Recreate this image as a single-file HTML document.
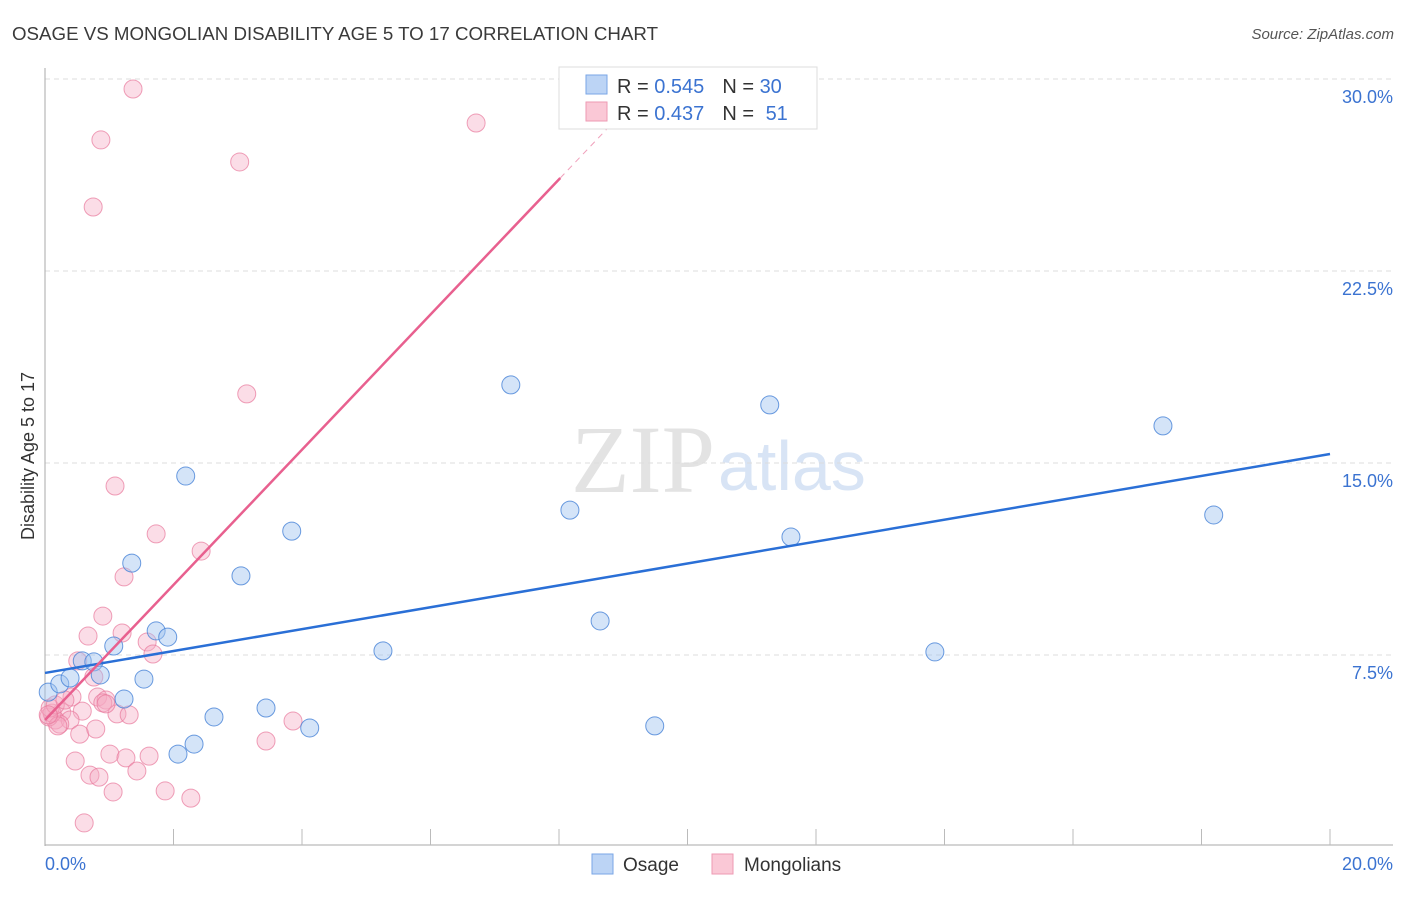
<!DOCTYPE html>
<html><head><meta charset="utf-8"><style>
body{margin:0;background:#fff;font-family:"Liberation Sans",sans-serif;}
svg text{font-family:"Liberation Sans",sans-serif;}
</style></head><body>
<svg width="1406" height="892" xmlns="http://www.w3.org/2000/svg">
<text x="12" y="40" font-size="18" fill="#3a3a3a" textLength="646" lengthAdjust="spacingAndGlyphs">OSAGE VS MONGOLIAN DISABILITY AGE 5 TO 17 CORRELATION CHART</text>
<text x="1394" y="39" font-size="15" fill="#555" font-style="italic" text-anchor="end">Source: ZipAtlas.com</text>
<text x="715" y="492" font-size="96" fill="#e3e3e3" text-anchor="end" style="font-family:'Liberation Serif',serif">ZIP</text>
<text x="718" y="490" font-size="70" fill="#d8e4f5">atlas</text>
<g id="grid"></g>
<g id="axes"></g>
<g id="pts"></g>
<g id="trend"></g>
<text transform="translate(34,456) rotate(-90)" font-size="18" fill="#333" text-anchor="middle">Disability Age 5 to 17</text>
<text x="45" y="870" font-size="18" fill="#3b73d1">0.0%</text>
<text x="1393" y="870" font-size="18" fill="#3b73d1" text-anchor="end">20.0%</text>
<g>
<rect x="559" y="67" width="258" height="62" fill="#fff" stroke="#ddd"/>
<rect x="586" y="75" width="21" height="19" fill="#bcd4f5" stroke="#7aa6e6"/>
<rect x="586" y="102" width="21" height="19" fill="#fac8d6" stroke="#ee9ab3"/>
<text x="617" y="93" font-size="20" fill="#333">R = <tspan fill="#3b73d1">0.545</tspan><tspan dx="18" fill="#333">N = </tspan><tspan fill="#3b73d1">30</tspan></text>
<text x="617" y="120" font-size="20" fill="#333">R = <tspan fill="#3b73d1">0.437</tspan><tspan dx="18" fill="#333">N = </tspan><tspan dx="6" fill="#3b73d1">51</tspan></text>
</g>
<g>
<rect x="592" y="854" width="21" height="20" fill="#bcd4f5" stroke="#7aa6e6"/>
<text x="623" y="871" font-size="19" fill="#333">Osage</text>
<rect x="712" y="854" width="21" height="20" fill="#fac8d6" stroke="#ee9ab3"/>
<text x="744" y="871" font-size="19" fill="#333">Mongolians</text>
</g>
</svg>
<script>
const yTicks=[7.5,15,22.5,30];
const yTickLabels=["7.5%","15.0%","22.5%","30.0%"];
const xTicks=[2,4,6,8,10,12,14,16,18,20];
const osageX=[0.05,0.23,0.39,0.58,0.76,0.86,1.07,1.23,1.35,1.54,1.73,1.91,2.07,2.19,2.32,2.63,3.05,3.44,3.84,4.12,5.26,7.25,8.17,8.64,9.49,11.28,11.61,13.85,17.40,18.19];
const osageY=[6.05,6.37,6.60,7.27,7.23,6.72,7.85,5.78,11.09,6.56,8.44,8.20,3.63,14.49,4.02,5.08,10.59,5.43,12.34,4.65,7.66,18.05,13.16,8.83,4.73,17.27,12.11,7.62,16.45,12.97];
const mongX=[1.37,0.87,0.75,3.03,6.71,3.14,1.09,1.73,2.43,1.23,0.90,0.67,1.20,1.59,1.68,0.51,0.76,0.42,0.82,0.95,0.90,0.58,0.26,0.16,0.39,0.23,0.06,0.11,0.20,0.54,0.79,1.12,1.31,0.95,3.86,1.01,1.26,1.62,0.47,0.70,0.84,1.43,1.06,1.87,2.27,3.44,0.61,0.08,0.16,0.05,0.31];
const mongY=[29.61,27.62,25.0,26.76,28.28,17.70,14.10,12.23,11.56,10.55,9.02,8.24,8.36,8.01,7.54,7.27,6.64,5.86,5.86,5.74,5.63,5.31,5.27,4.96,4.96,4.80,5.08,5.23,4.73,4.41,4.61,5.20,5.16,5.59,4.92,3.63,3.48,3.55,3.36,2.81,2.73,2.97,2.15,2.19,1.91,4.14,0.94,5.43,5.55,5.16,5.74];
const osageTrend=[6.80,15.35];
const mongTrend=[4.96,2.64];
const NS="http://www.w3.org/2000/svg";
const sx=v=>45+v*64.25, sy=v=>847-v*25.6;
function mk(t,a,p){const e=document.createElementNS(NS,t);for(const k in a)e.setAttribute(k,a[k]);p.appendChild(e);return e;}
const grid=document.getElementById('grid'),axes=document.getElementById('axes'),pts=document.getElementById('pts'),tr=document.getElementById('trend');
yTicks.forEach((v,i)=>{
 const l=mk('line',{x1:45,x2:1393,y1:sy(v),y2:sy(v),stroke:'#ddd','stroke-dasharray':'5,4'},grid);
 
 
 const t=mk('text',{x:1393,y:sy(v)+24,'font-size':18,fill:'#3b73d1','text-anchor':'end'},grid);
 t.textContent=yTickLabels[i];
 
 
});
let a=mk('line',{x1:45,x2:45,y1:68,y2:846,stroke:'#aaa'},axes);


a=mk('line',{x1:45,x2:1393,y1:845,y2:845,stroke:'#aaa'},axes);


xTicks.forEach(v=>{
 const l=mk('line',{x1:sx(v),x2:sx(v),y1:829,y2:845,stroke:'#bbb'},axes);
 
 
});
mongX.forEach((x,i)=>{
 const c=mk('circle',{cx:sx(x),cy:sy(mongY[i]),r:9,fill:'rgba(246,170,195,0.4)',stroke:'rgba(232,120,155,0.7)','stroke-width':1},pts);
 
 
});
osageX.forEach((x,i)=>{
 const c=mk('circle',{cx:sx(x),cy:sy(osageY[i]),r:9,fill:'rgba(160,195,240,0.45)',stroke:'rgba(70,130,215,0.8)','stroke-width':1},pts);
 
 
});
let t=mk('line',{x1:sx(0),y1:sy(osageTrend[0]),x2:sx(20),y2:sy(osageTrend[1]),stroke:'#2a6fd6','stroke-width':2.5},tr);


const xe=8.02,xd=8.8;
t=mk('line',{x1:sx(0),y1:sy(mongTrend[0]),x2:sx(xe),y2:sy(mongTrend[0]+mongTrend[1]*xe),stroke:'#e8608f','stroke-width':2.5},tr);


t=mk('line',{x1:sx(xe),y1:sy(mongTrend[0]+mongTrend[1]*xe),x2:sx(xd),y2:sy(mongTrend[0]+mongTrend[1]*xd),stroke:'#f0a0bb','stroke-width':1,'stroke-dasharray':'6,5'},tr);


</script>
</body></html>
